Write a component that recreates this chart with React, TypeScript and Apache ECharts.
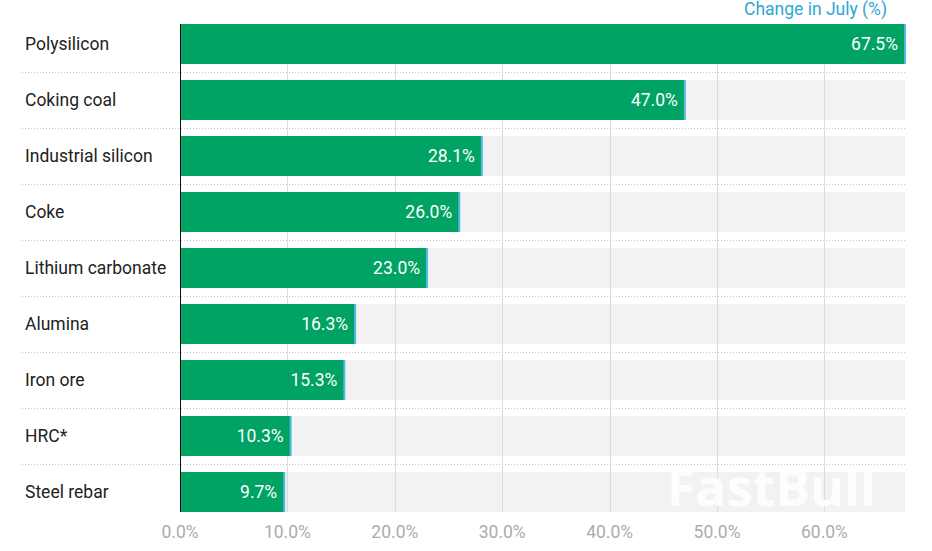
import React, { useEffect, useRef } from "react";
import * as echarts from "echarts";

const categories = [
  "Polysilicon",
  "Coking coal",
  "Industrial silicon",
  "Coke",
  "Lithium carbonate",
  "Alumina",
  "Iron ore",
  "HRC*",
  "Steel rebar",
];
const changeValues = [67.5, 47.0, 28.1, 26.0, 23.0, 16.3, 15.3, 10.3, 9.7];
const axisMax = 67.5;
const axisInterval = 10;
const titleText = "Change in July (%)";

export default function App() {
  const ref = useRef<HTMLDivElement>(null);
  useEffect(() => {
    if (!ref.current) return;
    const chart = echarts.init(ref.current, null, { renderer: "svg" });
    const barH = 40;
    const fs = 17.5;
    const gridTicks: number[] = [];
    for (let t = axisInterval; t < axisMax; t += axisInterval) gridTicks.push(t);
    const lastIdx = categories.length - 1;

    const rowSpan = (api: any, idx: number) => {
      const c = api.coord([0, idx]);
      const band = api.size([0, 1])[1];
      const y1 = idx === 0 ? c[1] - barH / 2 : c[1] - band / 2;
      const y2 = idx === lastIdx ? c[1] + barH / 2 : c[1] + band / 2;
      return [y1, y2];
    };

    chart.setOption({
      animation: false,
      backgroundColor: "#ffffff",
      textStyle: { fontFamily: "Roboto" },
      title: {
        text: titleText,
        right: 45,
        top: 0,
        padding: 0,
        textStyle: { color: "#2ea6d6", fontSize: fs, fontWeight: "normal", fontFamily: "Roboto" },
      },
      grid: { left: 180, right: 27, top: 16, bottom: 31, containLabel: false },
      xAxis: {
        type: "value",
        min: 0,
        max: axisMax,
        interval: axisInterval,
        axisLine: { show: false },
        axisTick: { show: false },
        splitLine: { show: false },
        axisLabel: {
          color: "#acacac",
          fontSize: fs,
          margin: 3,
          showMaxLabel: false,
          formatter: (v: number) => v.toFixed(1) + "%",
        },
      },
      yAxis: {
        type: "category",
        inverse: true,
        data: categories,
        axisLine: { show: false },
        axisTick: { show: false },
        splitLine: { show: false },
        axisLabel: {
          align: "left",
          margin: 155,
          color: "#222",
          fontSize: fs,
        },
      },
      series: [
        {
          name: "bg",
          type: "bar",
          data: changeValues,
          barWidth: barH,
          barGap: "-100%",
          z: 0,
          itemStyle: { color: "rgba(0,0,0,0)" },
          showBackground: true,
          backgroundStyle: { color: "#f2f2f2" },
          silent: true,
        },
        {
          name: "grid",
          type: "custom",
          z: 1,
          silent: true,
          data: changeValues.map((v, i) => [v, i]),
          encode: { x: 0, y: 1 },
          renderItem: (params: any, api: any) => {
            const idx = api.value(1);
            const [y1, y2] = rowSpan(api, idx);
            const children = gridTicks.map((t) => {
              const x = Math.round(api.coord([t, idx])[0]) + 0.5;
              return {
                type: "line",
                shape: { x1: x, y1, x2: x, y2 },
                style: { stroke: "#dcdcdc", lineWidth: 1 },
              };
            });
            return { type: "group", children };
          },
        },
        {
          name: "Change",
          type: "bar",
          data: changeValues,
          barWidth: barH,
          barGap: "-100%",
          z: 2,
          itemStyle: { color: "#00a363" },
          label: {
            show: true,
            position: "insideRight",
            distance: 7,
            color: "#ffffff",
            fontSize: fs,
            formatter: (p: any) => Number(p.value).toFixed(1) + "%",
          },
        },
        {
          name: "caps",
          type: "custom",
          z: 4,
          clip: false,
          silent: true,
          data: changeValues.map((v, i) => [v, i]),
          encode: { x: 0, y: 1 },
          renderItem: (params: any, api: any) => {
            const idx = api.value(1);
            const end = api.coord([api.value(0), idx]);
            const band = api.size([0, 1])[1];
            const cs = params.coordSys;
            const [y1, y2] = rowSpan(api, idx);
            const x0 = Math.round(api.coord([0, idx])[0]) + 0.5;
            const children: any[] = [
              {
                type: "rect",
                shape: { x: end[0] - 1, y: end[1] - barH / 2, width: 2, height: barH },
                style: { fill: "#52b9e3" },
              },
              {
                type: "line",
                shape: { x1: x0, y1, x2: x0, y2 },
                style: { stroke: "#111", lineWidth: 1 },
              },
            ];
            if (idx < lastIdx) {
              const y = Math.round(end[1] + band / 2) + 0.5;
              children.push({
                type: "line",
                shape: { x1: cs.x - 158, y1: y, x2: cs.x + cs.width, y2: y },
                style: { stroke: "#c8c8c8", lineWidth: 1, lineDash: [1, 2] },
              });
            }
            return { type: "group", children };
          },
        },
      ],
      graphic: [
        {
          type: "text",
          right: 56,
          top: 459,
          z: 10,
          silent: true,
          style: {
            text: "FastBull",
            fontSize: 52,
            fontWeight: "bold",
            fontFamily: "Open Sans",
            fill: "rgba(255,255,255,0.85)",
            shadowColor: "rgba(0,0,0,0.14)",
            shadowBlur: 8,
            shadowOffsetY: 2,
          },
        },
      ],
    });
    return () => chart.dispose();
  }, []);
  return (
    <div
      ref={ref}
      style={{ position: "absolute", left: 0, top: 0, width: 932, height: 551 }}
    />
  );
}
